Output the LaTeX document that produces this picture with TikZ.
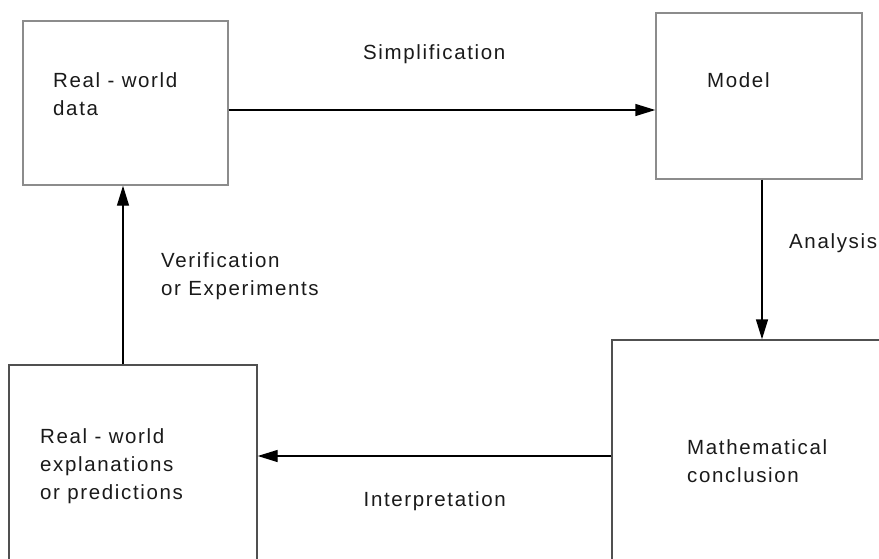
\documentclass[tikz,border=0pt]{standalone}
\usepackage{fontspec}
\setmainfont{Liberation Sans}[LetterSpace=8]
\usetikzlibrary{arrows.meta}
\definecolor{lightframe}{HTML}{8C8C8C}
\definecolor{darkframe}{HTML}{505050}
\definecolor{txt}{HTML}{1A1A1A}
\begin{document}
\begin{tikzpicture}[x=1pt,y=-1pt,
  lightbox/.style={draw=lightframe, line width=1.4pt, inner sep=0pt},
  darkbox/.style={draw=darkframe, line width=1.4pt, inner sep=0pt},
  lbl/.style={anchor=base west, inner sep=0pt, text=txt, font=\fontsize{20.5}{28}\selectfont},
  arr/.style={line width=1.4pt, -{Triangle[length=20pt,width=12pt]}},
  ln/.style={line width=1.4pt}]
\useasboundingbox (0,0) rectangle (879,558);
\clip (0,0) rectangle (879,558);
\fill[white] (0,0) rectangle (879,558);
% boxes
\node[lightbox, minimum width=205pt, minimum height=164pt] (data) at (125.5,103) {};
\node[lightbox, minimum width=206pt, minimum height=166pt] (model) at (759,96) {};
\node[darkbox, minimum width=338pt, minimum height=310pt] (concl) at (781,495) {};
\node[darkbox, minimum width=248pt, minimum height=285pt] (expl) at (133,507.5) {};
% box texts
\node[lbl] (d1) at (53,87) {Real - world};
\node[lbl] (d2) at (53,115) {data};
\node[lbl] (m1) at (707,87) {Model};
\node[lbl] (c1) at (687,454) {Mathematical};
\node[lbl] (c2) at (687,482) {conclusion};
\node[lbl] (e1) at (40,443) {Real - world};
\node[lbl] (e2) at (40,471) {explanations};
\node[lbl] (e3) at (40,499) {or predictions};
% edge labels
\node[lbl] (s1) at (363,59) {Simplification};
\node[lbl] (a1) at (789,248) {Analysis};
\node[lbl, anchor=base east] (i1) at (506,506) {Interpretation};
\node[lbl] (v1) at (161,267) {Verification};
\node[lbl] (v2) at (161,295) {or Experiments};
% connectors
\coordinate (ay) at (0,110);
\coordinate (ax) at (762,0);
\coordinate (iy) at (0,456);
\coordinate (vx) at (123,0);
\draw[arr] (data.east |- ay) -- (model.west |- ay);
\draw[arr] (model.south -| ax) -- (concl.north -| ax);
\draw[arr] (concl.west |- iy) -- (expl.east |- iy);
\draw[arr] (expl.north -| vx) -- (data.south -| vx);
\end{tikzpicture}
\end{document}
